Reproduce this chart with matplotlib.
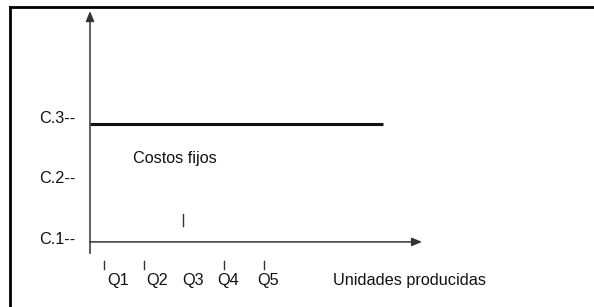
import matplotlib
matplotlib.use("Agg")
import matplotlib.pyplot as plt

plt.rcParams['font.family'] = ['Liberation Sans', 'DejaVu Sans']

# Data
cost_labels = ["C.1--", "C.2--", "C.3--"]
cost_levels = [1.0, 2.0, 3.0]
q_labels = ["Q1", "Q2", "Q3", "Q4", "Q5"]
q_levels = [1, 2, 3, 4, 5]
fixed_cost = 2.94
fixed_cost_q_end = 7.98
x_axis_end = 8.95
y_axis_top = 4.8
origin_q = 0.65
x_axis_label = "Unidades producidas"
line_label = "Costos fijos"

# layout: label x offsets relative to their tick
q_label_offsets = [0.075, 0.05, -0.05, -0.175, -0.175]

W, H = 594, 307
FS = 11.7
fig = plt.figure(figsize=(W / 100, H / 100), dpi=100)
ax = fig.add_axes([0, 0, 1, 1])
# pixel x = 64 + 40*q ; pixel y = 301.5 - 60.5*c
ax.set_xlim((0 - 64) / 40, (W - 64) / 40)
ax.set_ylim((301.5 - H) / 60.5, 301.5 / 60.5)
ax.axis('off')

# frame (top and left lines)
fig.add_artist(plt.Line2D([9.5 / W, 9.5 / W], [0, 1 - 6.5 / H], transform=fig.transFigure,
                          color='black', lw=2))
fig.add_artist(plt.Line2D([9.5 / W, 1], [1 - 6.5 / H, 1 - 6.5 / H], transform=fig.transFigure,
                          color='black', lw=2))

x_axis_y = cost_levels[0] - 0.015
y_axis_bottom = x_axis_y - 0.19

# Y axis with arrow
ax.annotate("", xy=(origin_q, y_axis_top), xytext=(origin_q, y_axis_bottom),
            arrowprops=dict(arrowstyle='-|>,head_length=0.6,head_width=0.25',
                            color='#333333', lw=1.1, shrinkA=0, shrinkB=0))
# X axis with arrow
ax.annotate("", xy=(x_axis_end, x_axis_y), xytext=(origin_q, x_axis_y),
            arrowprops=dict(arrowstyle='-|>,head_length=0.6,head_width=0.25',
                            color='#333333', lw=1.1, shrinkA=0, shrinkB=0))

# Fixed cost line
ax.plot([origin_q, fixed_cost_q_end], [fixed_cost, fixed_cost], color='#111111', lw=2.2,
        solid_capstyle='butt')

# Cost labels
for lab, c in zip(cost_labels, cost_levels):
    ax.text(-0.62, c + 0.03, lab, ha='left', va='center', fontsize=FS, color='#111111')

# Quantity ticks and labels
for lab, q, off in zip(q_labels, q_levels, q_label_offsets):
    if lab == "Q3":
        ax.plot([q - 0.02, q - 0.02], [1.25, 1.45], color='#333333', lw=1)
    else:
        ax.plot([q, q], [0.54, 0.67], color='#333333', lw=1)
    ax.text(q + off, 0.34, lab, ha='left', va='center', fontsize=FS, color='#111111')

ax.text(6.72, 0.34, x_axis_label, ha='left', va='center', fontsize=FS, color='#111111')
ax.text(1.72, 2.36, line_label, ha='left', va='center', fontsize=FS, color='#111111')

fig.savefig("out.png", dpi=100)
